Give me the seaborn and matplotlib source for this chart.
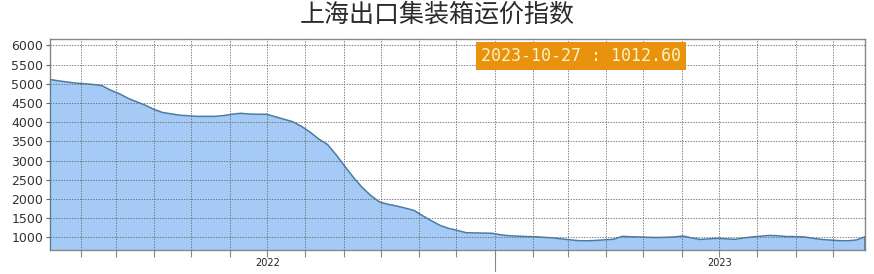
import matplotlib
matplotlib.use("Agg")
import matplotlib.pyplot as plt
import matplotlib.dates as mdates
import numpy as np
import pandas as pd
import seaborn as sns

# ---- data (weekly) ----
start_date = "2022-01-07"
scfi_values = [
    5110, 5075, 5045, 5015, 5000, 4980, 4950, 4830, 4740, 4620,
    4530, 4440, 4330, 4250, 4215, 4180, 4165, 4150, 4150, 4150,
    4170, 4205, 4230, 4210, 4205, 4205, 4140, 4075, 4010, 3890,
    3740, 3560, 3420, 3150, 2850, 2560, 2300, 2090, 1920, 1860,
    1815, 1760, 1700, 1560, 1430, 1310, 1230, 1180, 1120, 1115,
    1110, 1105, 1065, 1040, 1030, 1020, 1015, 1000, 985, 960,
    935, 912, 910, 920, 935, 950, 1025, 1015, 1010, 1000,
    995, 1000, 1010, 1035, 985, 945, 960, 975, 960, 948,
    985, 1010, 1030, 1050, 1040, 1020, 1020, 1010, 975, 945,
    928, 915, 910, 930, 1012.6,
]
title_text = "上海出口集装箱运价指数"
last_label = "2023-10-27 : 1012.60"
year_labels = ["2022", "2023"]
year_centers = ["2022-07-02", "2023-07-02"]
year_boundary = "2023-01-01"
y_ticks = list(range(1000, 6001, 500))

dates = pd.date_range(start_date, periods=len(scfi_values), freq="7D")
df = pd.DataFrame({"date": dates, "value": scfi_values})

sns.set_theme(style="white")
plt.rcParams["font.family"] = ["DejaVu Sans"]

fig = plt.figure(figsize=(8.74, 2.74), dpi=100)
ax = fig.add_axes([50 / 874, 1 - 250 / 274, 815 / 874, 211 / 274])

fill_c = "#A4CAF5"
line_c = "#4A7BA3"
ax.fill_between(df["date"], df["value"], 0, color=fill_c, linewidth=0, zorder=2)
sns.lineplot(data=df, x="date", y="value", ax=ax, color=line_c, linewidth=1.1, zorder=3)
# edges of the filled area
ax.plot([df["date"].iloc[0]] * 2, [0, df["value"].iloc[0]], color=line_c, lw=1.2, zorder=3)
ax.plot([df["date"].iloc[-1]] * 2, [0, df["value"].iloc[-1]], color=line_c, lw=1.2, zorder=3)

ax.set_xlim(df["date"].iloc[0], df["date"].iloc[-1])
ax.set_ylim(670, 6165)
ax.set_xlabel("")
ax.set_ylabel("")

# grid
ax.set_yticks(y_ticks)
ax.set_yticklabels([str(v) for v in y_ticks])
ax.xaxis.set_minor_locator(mdates.MonthLocator())
ax.set_xticks(pd.to_datetime(year_centers))
ax.set_xticklabels(year_labels)
ax.grid(False)
grid_kw = dict(color="#6a6a6a", lw=0.6, ls=(0, (1.6, 1.6)), zorder=4)
for v in y_ticks:
    ax.axhline(v, **grid_kw)
for d in pd.date_range("2022-02-01", "2023-10-01", freq="MS"):
    ax.axvline(d, **grid_kw)

ax.tick_params(axis="y", which="major", direction="out", length=3, width=0.8,
               color="#666666", labelsize=9, labelcolor="#333333", pad=2, left=True)
ax.tick_params(axis="x", which="major", length=0, labelsize=7, labelcolor="#222222", pad=6)
ax.tick_params(axis="x", which="minor", direction="out", length=5, width=0.8,
               color="#888888", bottom=True)
ax.axvline(pd.Timestamp(year_boundary), ymin=-0.1, ymax=0, clip_on=False,
           color="#888888", lw=0.8)

for s in ax.spines.values():
    s.set_color("#888888")
    s.set_linewidth(1.0)
    s.set_visible(True)

fig.text(0.5, 0.945, title_text, ha="center", va="center", fontsize=18,
         color="#2a2a2a", weight="medium", family=["Noto Sans CJK SC", "DejaVu Sans"])

ax.text(0.6515, 0.919, last_label, transform=ax.transAxes, ha="center", va="center",
        fontsize=12, color="#FFF3C4", family="DejaVu Sans Mono", zorder=6,
        bbox=dict(boxstyle="square,pad=0.3", facecolor="#E8920E", edgecolor="none"))

fig.savefig("out.png", dpi=100)
